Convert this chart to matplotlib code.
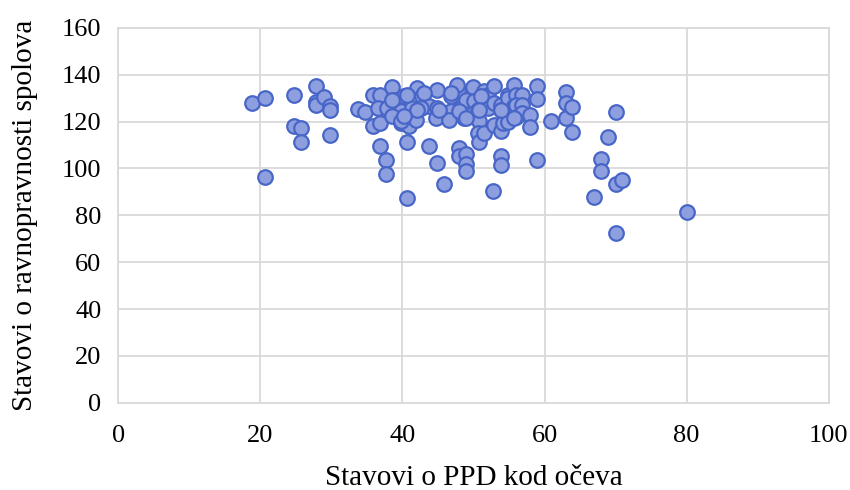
import numpy as np
import matplotlib.pyplot as plt

# stavovi o PPD kod oceva (x) i stavovi o ravnopravnosti spolova (y), ocitano sa slike
ppd = [18.8, 20.6, 20.6, 24.8, 24.8, 25.7, 25.7, 27.8, 27.8, 27.8, 28.9, 29.8, 29.8, 29.8,
       33.8, 34.8, 35.9, 36.8, 35.9, 36.8, 36.8, 37.7, 37.7,
       36.5, 37.9, 38.6, 38.8, 40.2, 39.8, 38.6, 39.8, 40.9, 41.4, 40.7, 40.7,
       42.1, 42.8, 43.8, 42.6, 41.9, 43.8, 44.9, 44.9, 44.7, 44.9, 45.8,
       46.8, 46.8, 46.6, 47.8, 48.2, 48.7, 47.9, 47.9, 49.0, 49.0, 49.0,
       48.9, 49.9, 50.1, 50.6, 50.8, 50.6, 50.8,
       51.5, 52.0, 52.0, 51.5, 52.9, 52.9, 52.9, 53.9, 53.9, 53.9, 54.1, 54.8, 54.8, 54.8, 53.9, 53.9, 52.8,
       55.7, 56.0, 56.9, 55.7, 56.0, 56.9, 56.0, 56.9, 55.7, 57.9, 57.9, 59.0, 59.0, 59.0,
       60.9, 63.0, 63.0, 63.0, 63.9, 63.9, 66.9, 68.0, 68.0, 68.9, 70.0, 70.0, 70.9, 70.0, 80.0,
       47.7, 40.7, 43.0, 46.8, 51.0, 48.0, 45.2, 42.1, 50.8, 53.9, 39.8, 48.9, 40.2, 38.6]
ravnopravnost = [128.0, 130.0, 96.5, 131.3, 118.3, 117.2, 111.2, 135.3, 128.4, 127.2, 130.4, 126.5, 125.0, 114.3,
                 125.4, 124.3, 131.2, 131.3, 118.3, 119.4, 109.4, 103.5, 97.5,
                 125.8, 125.8, 135.0, 129.4, 130.8, 124.4, 122.3, 119.4, 118.0, 125.8, 111.5, 87.3,
                 134.3, 130.8, 126.6, 125.8, 120.9, 109.5, 133.6, 125.8, 121.6, 102.4, 93.2,
                 130.8, 124.4, 120.9, 133.6, 125.8, 121.6, 108.8, 105.3, 106.4, 102.1, 98.9,
                 129.4, 135.0, 128.7, 125.1, 120.3, 115.2, 111.5,
                 133.0, 131.5, 125.8, 115.2, 135.4, 128.0, 118.5, 127.2, 125.0, 116.0, 119.4, 131.5, 130.0, 120.0, 105.5, 101.3, 90.3,
                 135.7, 131.5, 131.5, 126.5, 127.0, 127.2, 122.0, 123.7, 121.6, 123.0, 117.7, 135.4, 129.6, 103.7,
                 120.3, 132.5, 128.0, 121.4, 126.4, 115.6, 88.0, 104.0, 99.0, 113.3, 124.3, 93.2, 95.3, 72.3, 81.3,
                 135.7, 131.5, 132.2, 132.2, 130.8, 124.4, 125.1, 125.1, 125.1, 125.1, 120.3, 121.6, 122.3, 129.4]

x_ticks = [0, 20, 40, 60, 80, 100]
y_ticks = [0, 20, 40, 60, 80, 100, 120, 140, 160]

plt.rcParams['font.family'] = ['Liberation Serif', 'DejaVu Serif']

fig = plt.figure(figsize=(8.5, 4.9), dpi=100)
ax = fig.add_axes([0.139, 0.178, 0.836, 0.765])

ax.scatter(ppd, ravnopravnost, s=110, c='#8e9fdf', edgecolors='#4866c8',
           linewidths=1.6, zorder=3)

ax.set_xlim(0, 100)
ax.set_ylim(0, 160)
ax.set_xticks(x_ticks)
ax.set_yticks(y_ticks)
ax.grid(True, color='#d9d9d9', linewidth=1.3, zorder=0)
ax.tick_params(length=0, labelsize=19, colors='#000000')
ax.tick_params(axis='x', pad=16)
ax.tick_params(axis='y', pad=12)
for sp in ax.spines.values():
    sp.set_color('#d9d9d9')
    sp.set_linewidth(1.3)

ax.set_xlabel('Stavovi o PPD kod očeva', fontsize=21, labelpad=13)
ax.set_ylabel('Stavovi o ravnopravnosti spolova', fontsize=21, labelpad=17)

plt.savefig('out.png', dpi=100)
